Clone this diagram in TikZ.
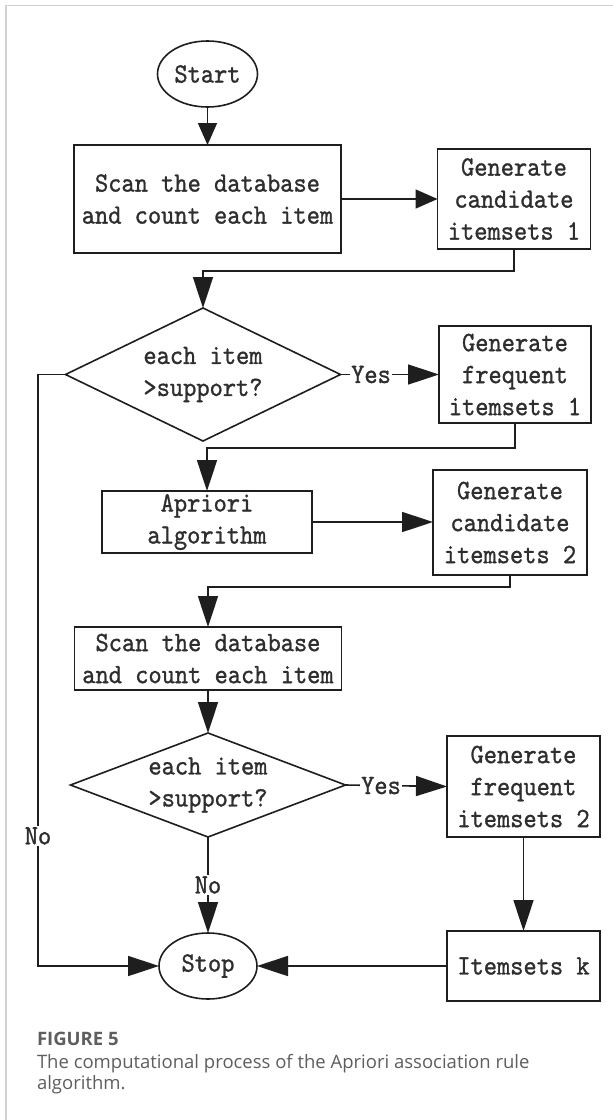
\documentclass[tikz,border=0pt]{standalone}
\usepackage{fontspec}
\usetikzlibrary{shapes.geometric,arrows.meta,positioning}
\newfontfamily\simf{lmmono10-regular.otf}[FakeStretch=0.9,FakeBold=1.0]
\newfontfamily\capf{Open Sans}
\definecolor{ink}{HTML}{1E1E1E}
\definecolor{txt}{HTML}{2E2E2E}
\definecolor{frame}{HTML}{D2D2D2}
\definecolor{capgray}{HTML}{5E5E5E}
\begin{document}
\begin{tikzpicture}[x=1pt,y=-1pt,
  every node/.style={inner sep=0pt, outer sep=0pt, text=txt, font=\simf\fontsize{28}{32}\selectfont},
  pbox/.style={draw=ink, line width=1.6pt, rectangle, align=center},
  oval/.style={draw=ink, line width=1.6pt, ellipse, minimum width=100pt, minimum height=66pt},
  dec/.style={draw=ink, line width=1.6pt, diamond, align=center},
  conn/.style={draw=ink, line width=1.6pt},
  arr/.style={conn, -{Triangle[length=31pt,width=20pt]}},
  arrs/.style={conn, -{Triangle[length=22pt,width=19pt]}},
  lbl/.style={fill=white, inner sep=1.5pt},
  capt/.style={anchor=base west, text=capgray, font=\capf\fontsize{18.5}{22}\selectfont}
]
\useasboundingbox[fill=white] (0,0) rectangle (613,1120);
\draw[frame, line width=1.5pt] (6,1120) -- (6,5.3) -- (613,5.3);

% nodes
\node[oval] (start) at (207.5,74) {Start};
\node[pbox, minimum width=267pt, minimum height=108pt] (b1) at (207.5,199) {Scan the database\\and count each item};
\node[pbox, minimum width=153pt, minimum height=100pt] (b2) at (514,199) {Generate\\candidate\\itemsets 1};
\node[dec, minimum width=275pt, minimum height=133pt, shape aspect=2.07] (d1) at (203,374.5) {each item\\>support?};
\node[pbox, minimum width=152pt, minimum height=97pt] (b3) at (515,374.5) {Generate\\frequent\\itemsets 1};
\node[pbox, minimum width=210pt, minimum height=62pt] (ap) at (207,522) {Apriori\\algorithm};
\node[pbox, minimum width=154pt, minimum height=105pt] (b5) at (510,522.5) {Generate\\candidate\\itemsets 2};
\node[pbox, minimum width=267pt, minimum height=63pt] (s2) at (208,658.5) {Scan the database\\and count each item};
\node[dec, minimum width=275pt, minimum height=104pt, shape aspect=2.64] (d2) at (208,785) {each item\\>support?};
\node[pbox, minimum width=153pt, minimum height=101pt] (b6) at (523.5,786.5) {Generate\\frequent\\itemsets 2};
\node[pbox, minimum width=153pt, minimum height=70pt] (ik) at (523.5,966) {Itemsets k};
\node[oval, minimum width=98pt] (stop) at (208,966) {Stop};

% bend points
\coordinate (k1) at (203,271);
\coordinate (k2) at (207,448);
\coordinate (k3) at (208,587);
\coordinate (l1) at (38,374.5);
\coordinate (l2) at (38,966);

% connectors
\draw[arrs] (start) -- (b1);
\draw[arrs] (b1) -- (b2);
\draw[arr] (b2.south) |- (k1) -- (d1.north);
\draw[arr] (d1.east) -- node[lbl, pos=0.31]{Yes} (b3.west);
\draw[arr] (b3.south) |- (k2) -- (ap.north);
\draw[arr] (ap.east) -- (ap.east -| b5.west);
\draw[arr] (b5.south) |- (k3) -- (s2.north);
\draw[arr] (s2.south) -- (d2.north);
\draw[arr] (d2.east) -- node[lbl, pos=0.35]{Yes} (b6.west);
\draw[arr] (b6.south) -- (ik.north);
\draw[arr] (ik.west) -- (stop.east);
\draw[arr] (d2.south) -- node[lbl, pos=0.5]{No} (stop.north);
\draw[arr] (d1.west) -- (l1) -- node[lbl, pos=0.78]{No} (l2) -- (stop.west);

% caption
\node[capt, font=\capf\bfseries\fontsize{18.5}{22}\selectfont] (cap0) at (37,1045) {FIGURE 5};
\node[capt] (cap1) at (37,1068) {The computational process of the Apriori association rule};
\node[capt] (cap2) at (37,1089) {algorithm.};
\end{tikzpicture}
\end{document}
